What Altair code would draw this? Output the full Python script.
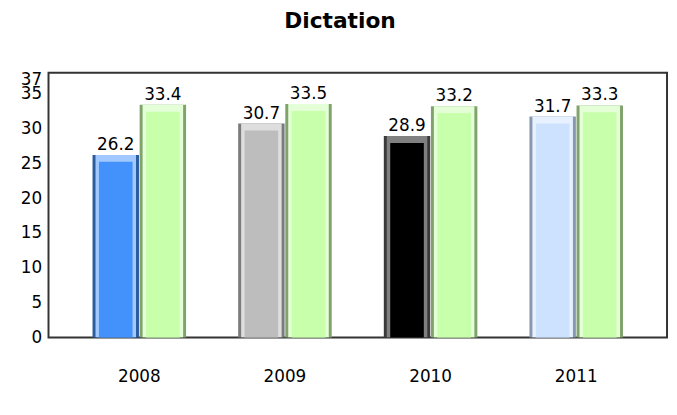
import altair as alt
import pandas as pd

years = ["2008", "2009", "2010", "2011"]
series = ["Pupil", "Average"]
pupil_scores = [26.2, 30.7, 28.9, 31.7]
average_scores = [33.4, 33.5, 33.2, 33.3]
y_ticks = [0, 5, 10, 15, 20, 25, 30, 35, 37]

rows = []
for i, yr in enumerate(years):
    rows.append({"year": yr, "series": series[0], "value": pupil_scores[i], "key": f"{yr}-{series[0]}"})
    rows.append({"year": yr, "series": series[1], "value": average_scores[i], "key": f"{yr}-{series[1]}"})
df = pd.DataFrame(rows)
keys = list(df["key"])

green_body, green_light, green_dark = "#c8ffaa", "#e4ffd8", "#80a36c"
body_first = ["#4391fb", "#bdbdbd", "#000000", "#cde2ff"]
light_first = ["#a2c9ff", "#dedede", "#808080", "#e8f1ff"]
dark_first = ["#2b5c9e", "#7b7b7b", "#3a3a3a", "#8898b0"]

def colors(first, green):
    out = []
    for c in first:
        out += [c, green]
    return out

FONT = "DejaVu Sans"

x_enc = alt.X("year:N", sort=years,
              scale=alt.Scale(paddingInner=0.353, paddingOuter=0.3),
              axis=alt.Axis(title=None, labelAngle=0, ticks=False, tickSize=0, domain=False,
                            labelPadding=32, labelFontSize=17, labelColor="#000000",
                            labelFont=FONT))
xo_enc = alt.XOffset("series:N", sort=series, scale=alt.Scale(paddingInner=0, paddingOuter=0))
y_enc = alt.Y("value:Q", scale=alt.Scale(domain=[0, 38], nice=False, zero=True),
              axis=alt.Axis(title=None, values=y_ticks, grid=False, ticks=False, tickSize=0,
                            domain=False, labelPadding=7, labelFontSize=17,
                            labelColor="#000000", labelFont=FONT, labelOverlap=False,
                            labelBound=False))

base = alt.Chart(df)

dark = base.mark_bar(width=47).encode(
    x=x_enc, xOffset=xo_enc, y=y_enc,
    color=alt.Color("key:N", scale=alt.Scale(domain=keys, range=colors(dark_first, green_dark)), legend=None),
)
light = base.mark_bar(width=41, xOffset=-3, clip=True).encode(
    x=x_enc, xOffset=xo_enc, y=y_enc,
    color=alt.Color("key:N", scale=alt.Scale(domain=keys, range=colors(light_first, green_light)), legend=None),
)
body = base.mark_bar(width=34, xOffset=0.5, yOffset=7, clip=True).encode(
    x=x_enc, xOffset=xo_enc, y=y_enc,
    color=alt.Color("key:N", scale=alt.Scale(domain=keys, range=colors(body_first, green_body)), legend=None),
)
labels = base.mark_text(dy=-5, baseline="alphabetic", fontSize=17, font=FONT, color="#000000").encode(
    x=x_enc, xOffset=xo_enc, y=y_enc, text=alt.Text("value:Q", format=".1f"),
)

chart = alt.layer(dark, light, body, labels).resolve_scale(color="independent").properties(
    width=626, height=268,
    autosize=alt.AutoSizeParams(type="none"),
    padding={"left": 41, "top": 63, "right": 2, "bottom": 76},
    title=alt.TitleParams("Dictation", font=FONT, fontSize=22, fontWeight="bold", color="#000000",
                          anchor="middle", frame="group", offset=38, dx=-18),
).configure(background="#ffffff").configure_view(stroke="#333333", strokeWidth=2)

chart.save("out.html", embed_options={"renderer": "svg", "actions": False})
